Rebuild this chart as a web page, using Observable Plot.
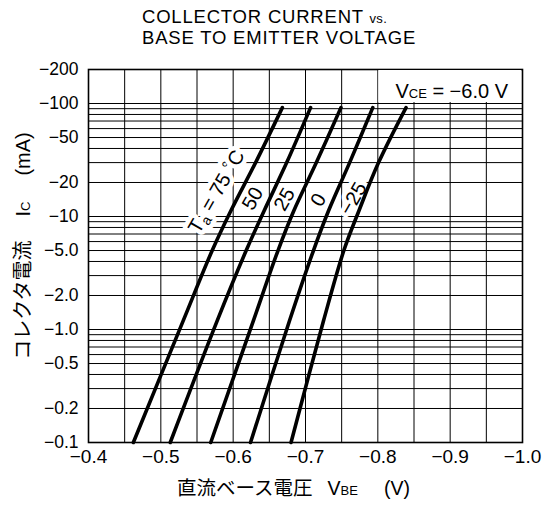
<!DOCTYPE html>
<html>
<head>
<meta charset="utf-8">
<script src="https://cdn.jsdelivr.net/npm/d3@7"></script>
<script src="https://cdn.jsdelivr.net/npm/@observablehq/plot@0.6"></script>
<style>
  html, body { margin: 0; padding: 0; background: #fff; }
  #wrap { width: 542px; font-family: 'Liberation Sans', 'Noto Sans CJK JP', sans-serif; }
  svg { display: block; }
</style>
</head>
<body>
<div id="wrap"></div>
<script>
// ---- data ----
const tempLabels = ["75", "50", "25", "0", "−25"];
const collectorCurrent = [-0.1, -1.2, -5, -11.3, -30, -92];          // mA
const vbe75  = [-0.462, -0.531, -0.571, -0.597, -0.631, -0.668];     // V
const vbe50  = [-0.513, -0.578, -0.618, -0.643, -0.674, -0.707];
const vbe25  = [-0.569, -0.628, -0.662, -0.684, -0.715, -0.749];
const vbe0   = [-0.624, -0.678, -0.711, -0.732, -0.761, -0.793];
const vbeM25 = [-0.680, -0.725, -0.753, -0.774, -0.801, -0.839];
const vbeSeries = [vbe75, vbe50, vbe25, vbe0, vbeM25];

const xTickValues = [-0.4, -0.5, -0.6, -0.7, -0.8, -0.9, -1.0];
const xTickLabels = ["−0.4", "−0.5", "−0.6", "−0.7", "−0.8", "−0.9", "−1.0"];
const xGrid = [-0.45, -0.5, -0.55, -0.6, -0.65, -0.7, -0.75, -0.8, -0.85, -0.9, -0.95];
const yTickValues = [-200, -100, -50, -20, -10, -5, -2, -1, -0.5, -0.2, -0.1];
const yTickLabels = ["−200", "−100", "−50", "−20", "−10", "−5.0", "−2.0", "−1.0", "−0.5", "−0.2", "−0.1"];
const yGrid = [-0.2, -0.3, -0.4, -0.5, -0.6, -0.7, -0.8, -0.9,
               -1, -2, -3, -4, -5, -6, -7, -8, -9,
               -10, -20, -30, -40, -50, -60, -70, -80, -90, -100];

const curveLabelText = ["Ta = 75 °C", "50", "25", "0", "−25"];
const curveLabelV = [-0.577, -0.627, -0.671, -0.718, -0.766];
const curveLabelI = [-16.6, -14.4, -14.2, -14.0, -14.4];

// ---- tables ----
const curves = vbeSeries.flatMap((s, k) => s.map((v, i) => ({T: tempLabels[k], V: v, I: collectorCurrent[i]})));
const curveLabels = curveLabelText.map((t, i) => ({t, V: curveLabelV[i], I: curveLabelI[i]}));
const yTicks = yTickValues.map((v, i) => ({v, label: yTickLabels[i]}));

const FONT = "'Liberation Sans', 'Noto Sans CJK JP', sans-serif";
const wrap = document.getElementById("wrap");

// title
const titleSvg = d3.create("svg").attr("width", 542).attr("height", 50)
  .style("font-family", FONT);
const t1 = titleSvg.append("text").attr("x", 142).attr("y", 23).attr("font-size", 18.5)
  .attr("letter-spacing", 0.8);
t1.append("tspan").text("COLLECTOR CURRENT ");
t1.append("tspan").attr("font-size", 13).attr("letter-spacing", 0.3).text("vs.");
titleSvg.append("text").attr("x", 142).attr("y", 44).attr("font-size", 18.5)
  .attr("letter-spacing", 0.8).text("BASE TO EMITTER VOLTAGE");
wrap.appendChild(titleSvg.node());

const plot = Plot.plot({
  width: 542,
  height: 464,
  marginTop: 19,
  marginBottom: 72,
  marginLeft: 88,
  marginRight: 20,
  style: {fontFamily: FONT, fontSize: "18px", color: "black", background: "white"},
  x: {domain: [-0.4, -1.0], axis: null},
  y: {type: "log", domain: [0.1, 200], axis: null},
  marks: [
    Plot.ruleX(xGrid, {stroke: "black", strokeWidth: 1}),
    Plot.ruleY(yGrid, {y: d => -d, stroke: "black", strokeWidth: 1}),
    Plot.frame({stroke: "black", strokeWidth: 1.6}),
    Plot.axisX(xTickValues, {tickSize: 0, tickPadding: 7, fontSize: 19,
      tickFormat: d => xTickLabels[xTickValues.indexOf(d)], label: null}),
    Plot.text(yTicks, {y: d => -d.v, text: "label", frameAnchor: "left", textAnchor: "end",
      dx: -10, fontSize: 17.5, fill: "black"}),
    Plot.text(curveLabels, {x: "V", y: d => -d.I, text: "t", rotate: -60, fontSize: 20,
      fill: "black", stroke: "white", strokeWidth: 9, paintOrder: "stroke"}),
    Plot.line(curves, {x: "V", y: d => -d.I, z: "T", curve: "catmull-rom",
      stroke: "black", strokeWidth: 3.6})
  ]
});
wrap.appendChild(plot);

const svg = d3.select(plot);
const sx = plot.scale("x"), sy = plot.scale("y");

// Ta subscript
svg.selectAll("text").filter(function () { return this.textContent === "Ta = 75 °C"; })
  .each(function () {
    const el = d3.select(this);
    el.text(null);
    el.append("tspan").text("T");
    el.append("tspan").attr("font-size", 14).attr("dy", 4).text("a");
    el.append("tspan").attr("dy", -4).text(" = 75 ");
    el.append("tspan").attr("font-size", 18).attr("dy", -3).text("°");
    el.append("tspan").attr("dy", 3).text("C");
  });

// VCE label box
const bx0 = sx.apply(-0.8) + 1, bx1 = sx.apply(-1.0) - 1;
const by0 = sy.apply(200) + 1, by1 = sy.apply(100) - 1;
svg.append("rect").attr("x", bx0).attr("y", by0).attr("width", bx1 - bx0).attr("height", by1 - by0)
  .attr("fill", "white");
const vce = svg.append("text").attr("x", 508).attr("y", 48).attr("text-anchor", "end")
  .attr("font-size", 20).attr("fill", "black");
vce.append("tspan").text("V");
vce.append("tspan").attr("font-size", 13).text("CE");
vce.append("tspan").text(" = −6.0 V");

// y axis label
const yl = svg.append("text").attr("transform", "translate(30,196) rotate(-90)")
  .attr("text-anchor", "middle").attr("font-size", 20).attr("fill", "black");
yl.append("tspan").text("コレクタ電流");
yl.append("tspan").attr("dx", 24).text("I");
yl.append("tspan").attr("font-size", 13).text("C");
yl.append("tspan").attr("dx", 26).text("(mA)");

// x axis label
const xl = svg.append("text").attr("x", 177).attr("y", 445).attr("text-anchor", "start")
  .attr("font-size", 19.5).attr("fill", "black");
xl.append("tspan").text("直流ベース電圧");
xl.append("tspan").attr("dx", 15).text("V");
xl.append("tspan").attr("font-size", 13).text("BE");
xl.append("tspan").attr("dx", 26).text("(V)");
</script>
</body>
</html>
